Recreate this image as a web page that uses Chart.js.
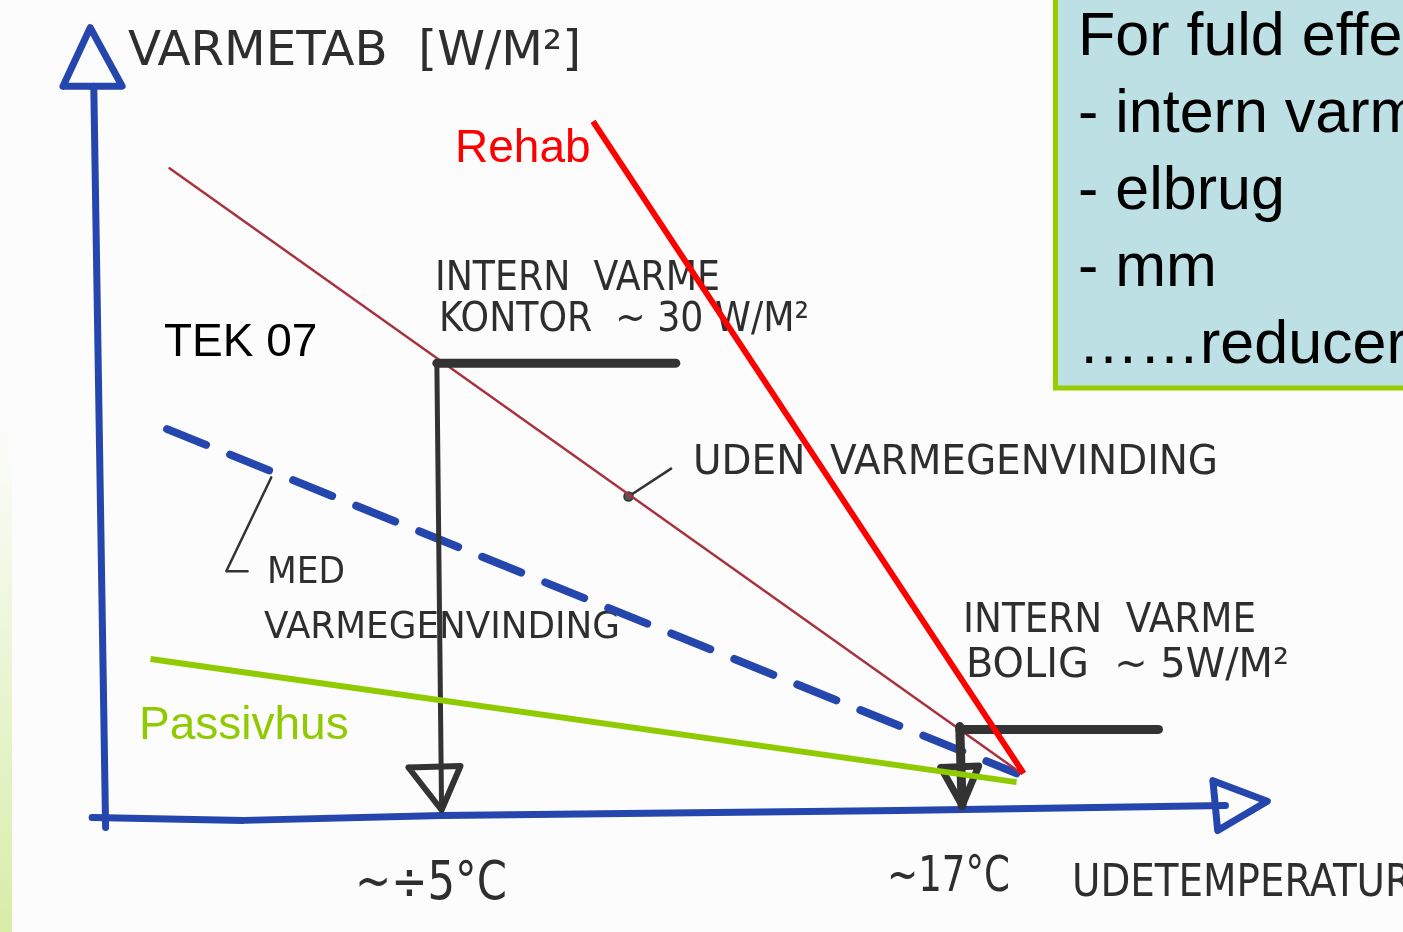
<!DOCTYPE html>
<html><head><meta charset="utf-8">
<script src="https://cdn.jsdelivr.net/npm/chart.js@4.4.0/dist/chart.umd.min.js"></script>
<style>
html,body{margin:0;padding:0;background:#fcfcfc;overflow:hidden}
#wrap{position:relative;width:1403px;height:932px}
#edge{position:absolute;left:0;top:0;width:12px;height:932px;background:linear-gradient(to bottom, rgba(220,240,180,0) 0px, rgba(220,240,180,0) 430px, #d8eda8 932px)}
canvas{position:absolute;left:0;top:0}
</style></head><body>
<div id="wrap"><div id="edge"></div><canvas id="c" width="1403" height="932"></canvas></div>
<script>
// ---- value ranges (°C horizontally, W/m² vertically) ----
const xMin = -23.31, xMax = 35.48;
const yMin = -8.42, yMax = 54.38;

// ---- series: outdoor temperature (°C) / heat loss (W/m²) ----
const udenT   = [-16.4, 19.6];  const udenW   = [43.3, 2.0];   // uden varmegenvinding (TEK 07)
const rehabT  = [1.5, 19.7];    const rehabW  = [46.5, 2.0];   // Rehab
const medT    = [-16.5, 19.4];  const medW    = [25.5, 2.0];   // med varmegenvinding
const passivT = [-17.2, 19.4];  const passivW = [9.8, 1.4];    // Passivhus

// intern varme kontor ~30 W/m² at ~ -5 °C
const kontorBarT  = [-5.1, 5.0];   const kontorBarW  = [30, 30];
const kontorDropT = [-5.1, -4.9];  const kontorDropW = [30, -0.5];
const kontorHeadT = [-6.3, -4.1, -4.9, -6.3]; const kontorHeadW = [2.4, 2.5, -0.5, 2.4];
// intern varme bolig ~5 W/m² at ~17 °C
const boligBarT  = [17.0, 25.4];  const boligBarW  = [5, 5];
const boligDropT = [17.0, 17.1];  const boligDropW = [5.2, -0.2];
const boligHeadT = [16.2, 17.8, 17.1, 16.2]; const boligHeadW = [2.4, 2.5, -0.2, 2.4];

// hand-drawn axes
const xAxisT = [-19.67, -13.26, -4.87, 14.40, 28.23];
const xAxisW = [-1.01, -1.21, -0.88, -0.54, -0.20];
const xArrowT = [27.7, 30.0, 27.9, 27.7]; const xArrowW = [1.5, 0.1, -1.9, 1.5];
const yAxisT = [-19.1, -19.6]; const yAxisW = [-1.7, 48.9];
const yArrowT = [-20.9, -19.75, -18.4, -20.9]; const yArrowW = [48.9, 52.9, 48.9, 48.9];

// pointer strokes for the hand-written labels
const medPtrT  = [-12.1, -14.0, -13.1]; const medPtrW  = [22.2, 15.8, 15.8];
const udenPtrT = [4.8, 3.0];            const udenPtrW = [22.8, 20.9];

// texts
const handLabels = [
  ['VARMETAB  [W/M²]', 128, 65, 453, 48],
  ['INTERN  VARME', 435, 290, 285, 40],
  ['KONTOR  ~ 30 W/M²', 439, 331, 370, 40],
  ['UDEN  VARMEGENVINDING', 693, 474, 525, 40],
  ['MED', 267, 583, 78, 38],
  ['VARMEGENVINDING', 264, 638, 356, 38],
  ['INTERN  VARME', 963, 632, 293, 40],
  ['BOLIG  ~ 5W/M²', 966, 677, 323, 40],
  ['~÷5°C', 355, 899, 152, 54],
  ['~17°C', 887, 891, 123, 50],
  ['UDETEMPERATUR', 1072, 896, 340, 44]
];
const boxLines = ['For fuld effekt', '- intern varme', '- elbrug', '- mm', '……reduceres'];

const pts = (xs, ys) => xs.map((x, i) => ({x, y: ys[i]}));
function ln(label, xs, ys, color, width, extra) {
  return Object.assign({
    label, data: pts(xs, ys), showLine: true, borderColor: color, backgroundColor: color,
    borderWidth: width, pointRadius: 0, borderCapStyle: 'round', borderJoinStyle: 'round',
    fill: false, tension: 0
  }, extra || {});
}

const BLUE = '#2446ad', INK = '#333333';
const datasets = [
  ln('Rehab', rehabT, rehabW, '#ff0000', 6, {borderCapStyle: 'butt'}),
  ln('Passivhus', passivT, passivW, '#8fcb00', 6, {borderCapStyle: 'butt'}),
  ln('Intern varme kontor', kontorBarT, kontorBarW, INK, 9),
  ln('kontor drop', kontorDropT, kontorDropW, INK, 5),
  ln('kontor head', kontorHeadT, kontorHeadW, INK, 6),
  ln('Intern varme bolig', boligBarT, boligBarW, INK, 9),
  ln('bolig drop', boligDropT, boligDropW, INK, 9),
  ln('bolig head', boligHeadT, boligHeadW, INK, 7),
  ln('Uden varmegenvinding', udenT, udenW, '#a8323f', 2.5),
  ln('Med varmegenvinding', medT, medW, BLUE, 8, {borderDash: [42, 26], borderCapStyle: 'round'}),
  ln('x-akse', xAxisT, xAxisW, BLUE, 7),
  ln('x-pil', xArrowT, xArrowW, BLUE, 7),
  ln('y-akse', yAxisT, yAxisW, BLUE, 7),
  ln('y-pil', yArrowT, yArrowW, BLUE, 7),
  ln('med pointer', medPtrT, medPtrW, INK, 2.5),
  ln('uden pointer', udenPtrT, udenPtrW, INK, 2.5, {pointRadius: [0, 4.5], pointBackgroundColor: '#555', pointBorderColor: INK, pointBorderWidth: 1.5})
];
datasets.forEach((d, i) => d.order = i);

const handText = {
  id: 'handText',
  beforeDatasetsDraw(chart) {
    const ctx = chart.ctx;
    ctx.save();
    ctx.fillStyle = '#2e2e2e';
    ctx.textBaseline = 'alphabetic';
    handLabels.forEach(([t, x, y, w, size]) => {
      ctx.font = '200 ' + size + 'px "DejaVu Sans Condensed", "DejaVu Sans", sans-serif';
      const m = ctx.measureText(t).width;
      ctx.save();
      ctx.translate(x, y);
      ctx.scale(w / m, 1);
      ctx.fillText(t, 0, 0);
      ctx.restore();
    });
    ctx.restore();
  },
  afterDraw(chart) {
    const ctx = chart.ctx;
    ctx.save();
    // typed labels
    ctx.font = '46px "Liberation Sans", Arial, sans-serif';
    ctx.textBaseline = 'alphabetic';
    ctx.fillStyle = '#ff0000'; ctx.fillText('Rehab', 455, 162);
    ctx.fillStyle = '#000000'; ctx.fillText('TEK 07', 164, 356);
    ctx.fillStyle = '#8fcb00'; ctx.fillText('Passivhus', 139, 739);
    // info box
    ctx.fillStyle = '#bce0e3';
    ctx.fillRect(1053, -10, 400, 400);
    ctx.strokeStyle = '#99cc00'; ctx.lineWidth = 5;
    ctx.strokeRect(1055.5, -10, 400, 398);
    ctx.fillStyle = '#000000';
    ctx.font = '61px "Liberation Sans", Arial, sans-serif';
    boxLines.forEach((t, i) => ctx.fillText(t, 1078, 55 + i * 77));
    ctx.restore();
  }
};

new Chart(document.getElementById('c'), {
  type: 'scatter',
  data: {datasets},
  options: {
    responsive: false, animation: false,
    layout: {padding: 0},
    scales: {
      x: {type: 'linear', min: xMin, max: xMax, display: false},
      y: {type: 'linear', min: yMin, max: yMax, display: false}
    },
    plugins: {legend: {display: false}, tooltip: {enabled: false}}
  },
  plugins: [handText]
});
</script>
</body></html>
